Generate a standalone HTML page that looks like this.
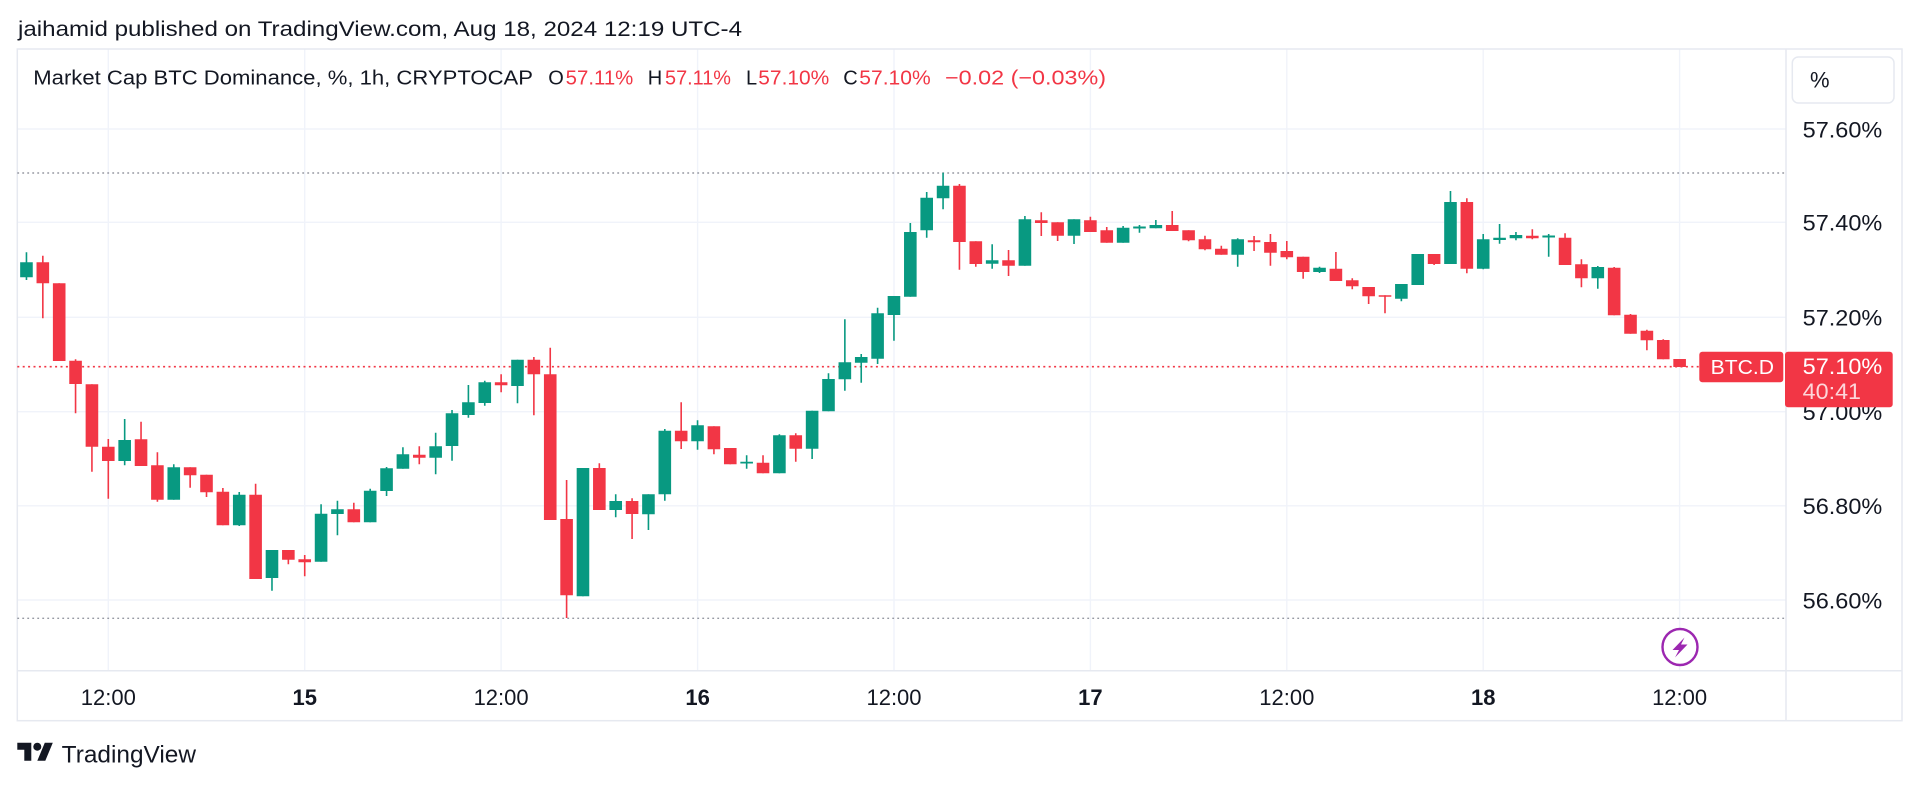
<!DOCTYPE html>
<html><head><meta charset="utf-8"><style>
html,body{margin:0;padding:0;background:#fff;}
svg{display:block;font-family:"Liberation Sans",Arial,sans-serif;}
</style></head><body>
<svg width="1920" height="785" viewBox="0 0 1920 785" xmlns="http://www.w3.org/2000/svg">
<rect width="1920" height="785" fill="#fff"/>
<text x="18" y="36" font-size="21" fill="#131722" textLength="724" lengthAdjust="spacingAndGlyphs">jaihamid published on TradingView.com, Aug 18, 2024 12:19 UTC-4</text>

<!-- grid -->
<g stroke="#F0F3FA" stroke-width="1.4">
<path d="M17.3 129H1786M17.3 222.3H1786M17.3 317.3H1786M17.3 411.7H1786M17.3 505.8H1786M17.3 600H1786"/>
<path d="M108.3 49V670.7M304.7 49V670.7M501.1 49V670.7M697.6 49V670.7M894 49V670.7M1090.4 49V670.7M1286.8 49V670.7M1483.2 49V670.7M1679.6 49V670.7"/>
</g>

<!-- frame -->
<g stroke="#E6E9F0" stroke-width="1.5" fill="none">
<rect x="17.3" y="49" width="1884.7" height="671.7"/>
<path d="M17.3 670.7H1902M1786 49V720.7"/>
</g>

<!-- legend -->
<g font-size="20" fill="#131722">
<text x="33.3" y="84.5" textLength="499.7" lengthAdjust="spacingAndGlyphs">Market Cap BTC Dominance, %, 1h, CRYPTOCAP</text>
<text x="548.3" y="84.5">O</text>
<text x="647.7" y="84.5">H</text>
<text x="746" y="84.5">L</text>
<text x="843.3" y="84.5">C</text>
</g>
<g font-size="20" fill="#F23645">
<text x="565.7" y="84.5" textLength="67.6" lengthAdjust="spacingAndGlyphs">57.11%</text>
<text x="665" y="84.5" textLength="66" lengthAdjust="spacingAndGlyphs">57.11%</text>
<text x="758.3" y="84.5" textLength="71" lengthAdjust="spacingAndGlyphs">57.10%</text>
<text x="859.3" y="84.5" textLength="71.4" lengthAdjust="spacingAndGlyphs">57.10%</text>
<text x="945" y="84.5" textLength="161" lengthAdjust="spacingAndGlyphs">−0.02 (−0.03%)</text>
</g>

<!-- high/low dotted -->
<g stroke="#9598A1" stroke-width="1.4" stroke-dasharray="1.8 3.2" fill="none">
<path d="M17.3 173H1786M17.3 618.3H1786"/>
</g>
<path d="M17.3 366.7H1699" stroke="#F23645" stroke-width="1.6" stroke-dasharray="2 3.4" fill="none"/>

<!-- green candles -->
<g stroke="#089981" fill="none">
<path stroke-width="1.6" d="M26.46 252.3V280M124.67 419V465.3M173.77 464.3V499.7M239.24 492V526M271.98 550V590.7M321.08 504.3V561.7M337.45 500.7V535.3M370.19 488.7V522.3M386.56 467V496M402.92 447.3V468.7M435.66 432.7V474.3M452.03 410V460.7M468.4 385V417.7M484.76 380.7V405.7M517.5 359.7V403.3M582.97 468V596.3M615.71 494.3V517.3M648.44 494.3V530M664.81 429V500.7M697.55 420.3V449.7M746.65 455.3V468.7M779.39 434.3V473.3M812.12 410.7V459M828.49 373.3V411.3M844.86 319.3V390.7M861.23 354V382.7M877.6 307.7V364M893.96 296V340.7M910.33 223V296.7M926.7 192V237.7M943.07 172.7V209.3M992.17 244.3V268.7M1024.91 216V265.7M1074.01 219.3V244M1123.12 226V242.7M1139.48 225V232.7M1155.85 220V228.3M1237.69 238.3V266.7M1319.53 266.7V273M1401.37 284V301.3M1417.74 254V285M1450.48 191V264M1483.21 234V269.3M1499.58 224V243.7M1515.95 232V240.3M1548.68 234V256.7M1597.79 266V288.7"/>
<path stroke-width="12.6" d="M26.46 262.3V277.3M124.67 440V461M173.77 467.3V499.7M239.24 494.7V525.3M271.98 550V578M321.08 513.7V561.7M337.45 509.3V514M370.19 490.7V522.3M386.56 468.3V491M402.92 454.3V468.7M435.66 446.3V457.7M452.03 413.3V446M468.4 402.3V415M484.76 382.3V403M517.5 359.7V386M582.97 468V596.3M615.71 501V510M648.44 494.3V514.3M664.81 430.7V494.3M697.55 425.3V441.3M746.65 461.7V463.5M779.39 435.3V473.3M812.12 410.7V448.7M828.49 379V411.3M844.86 362.3V379.3M861.23 357V362.7M877.6 313.3V358.7M893.96 296V315M910.33 232V296.7M926.7 197.7V230.3M943.07 185.7V198.3M992.17 260.3V263.7M1024.91 219.3V265.7M1074.01 219.3V235.7M1123.12 227.7V242.7M1139.48 226.5V228.5M1155.85 225V228.3M1237.69 239.3V254.7M1319.53 267.7V272M1401.37 284V298.7M1417.74 254V285M1450.48 202V264M1483.21 239.3V268.7M1499.58 237.7V240M1515.95 235V238.3M1548.68 235.5V237.5M1597.79 267V278.3"/>
</g>

<!-- red candles -->
<g stroke="#F23645" fill="none">
<path stroke-width="1.6" d="M42.83 255.7V318.3M59.2 283.3V361M75.56 359.3V413.3M91.93 384.3V471.7M108.3 439V498.7M141.04 421.7V466M157.4 452.3V501.7M190.14 467.3V487.7M206.51 474.7V497M222.88 488V525.3M255.61 483.7V579M288.35 550V564.3M304.72 555V576.3M353.82 502.7V522.3M419.29 446.3V464.3M501.13 374.3V392.3M533.87 357V415.3M550.24 347.7V520M566.6 480V618M599.34 463.3V510M632.08 498.3V539M681.18 402.3V449M713.92 426.3V454.3M730.28 448V464.3M763.02 455.3V473.3M795.76 433.3V461.7M959.44 184V269.7M975.8 241.3V266.7M1008.54 250V276M1041.28 212.3V236M1057.64 222.3V241M1090.38 216.7V232M1106.75 227V242.7M1172.22 211V231M1188.59 230.3V241.3M1204.96 235.7V250.3M1221.32 245.7V254.7M1254.06 236V251M1270.43 234V265.7M1286.8 241V259.3M1303.16 256.7V278.7M1335.9 252V281M1352.27 278.3V289.3M1368.64 287V304M1385 295.3V313.3M1434.11 254V265M1466.84 198.3V273.3M1532.32 229.3V239.3M1565.05 233.3V265M1581.42 259.3V287.3M1614.16 267V315.3M1630.52 314V333.7M1646.89 329.7V350.3M1663.26 339.3V359.3M1679.63 359V367"/>
<path stroke-width="12.6" d="M42.83 262.3V283.3M59.2 283.3V361M75.56 360.7V384M91.93 384.3V446.7M108.3 446.7V461M141.04 439.3V466M157.4 465.3V499.7M190.14 467.3V475.3M206.51 474.7V492.3M222.88 491.7V525.3M255.61 494.7V579M288.35 550V559.7M304.72 559.3V562.3M353.82 509.3V522.3M419.29 454.7V457.7M501.13 382.3V385.3M533.87 359.7V374.3M550.24 374.3V520M566.6 519V595.3M599.34 468V510M632.08 501V514M681.18 430.7V441.3M713.92 426.3V449.3M730.28 448V464.3M763.02 462.7V473.3M795.76 435.3V448.7M959.44 185.7V242M975.8 241.3V264M1008.54 260.3V265.7M1041.28 220.3V223M1057.64 222.3V235.7M1090.38 220.3V232M1106.75 230.3V242.7M1172.22 225V231M1188.59 230.3V240.3M1204.96 239.3V249.3M1221.32 248.7V254.7M1254.06 240.3V242.3M1270.43 242V252.7M1286.8 251V257.3M1303.16 256.7V272M1335.9 268.7V281M1352.27 280.3V286.3M1368.64 287V296.3M1385 295.3V296.8M1434.11 254V264M1466.84 202V268.7M1532.32 235.7V238.3M1565.05 237.7V265M1581.42 264.3V278.3M1614.16 267.7V315.3M1630.52 314.7V333.7M1646.89 330.7V340.3M1663.26 340V359.3M1679.63 359V367"/>
</g>

<!-- price axis -->
<rect x="1792.3" y="57" width="101.7" height="46" rx="6" fill="#fff" stroke="#E6E9F0" stroke-width="1.5"/>
<text x="1810" y="87.3" font-size="22" fill="#131722">%</text>
<g font-size="22" fill="#131722">
<text x="1802.7" y="137.3" textLength="79.6" lengthAdjust="spacingAndGlyphs">57.60%</text>
<text x="1802.7" y="230.6" textLength="79.6" lengthAdjust="spacingAndGlyphs">57.40%</text>
<text x="1802.7" y="325.6" textLength="79.6" lengthAdjust="spacingAndGlyphs">57.20%</text>
<text x="1802.7" y="420" textLength="79.6" lengthAdjust="spacingAndGlyphs">57.00%</text>
<text x="1802.7" y="514.1" textLength="79.6" lengthAdjust="spacingAndGlyphs">56.80%</text>
<text x="1802.7" y="608.3" textLength="79.6" lengthAdjust="spacingAndGlyphs">56.60%</text>
</g>

<!-- current price labels -->
<rect x="1699.3" y="351.7" width="84" height="30.6" rx="3" fill="#F23645"/>
<text x="1710.7" y="374" font-size="20.5" fill="#fff" textLength="63.3" lengthAdjust="spacingAndGlyphs">BTC.D</text>
<rect x="1785" y="351.7" width="107.7" height="55.6" rx="3" fill="#F23645"/>
<text x="1802.7" y="374" font-size="22" fill="#fff" textLength="79.6" lengthAdjust="spacingAndGlyphs">57.10%</text>
<text x="1802.7" y="399" font-size="22" fill="#fff" fill-opacity="0.8" textLength="58.3" lengthAdjust="spacingAndGlyphs">40:41</text>

<!-- time axis -->
<g font-size="22" fill="#131722" text-anchor="middle">
<text x="108.3" y="705">12:00</text>
<text x="304.7" y="705" font-weight="bold">15</text>
<text x="501.1" y="705">12:00</text>
<text x="697.6" y="705" font-weight="bold">16</text>
<text x="894" y="705">12:00</text>
<text x="1090.4" y="705" font-weight="bold">17</text>
<text x="1286.8" y="705">12:00</text>
<text x="1483.2" y="705" font-weight="bold">18</text>
<text x="1679.6" y="705">12:00</text>
</g>

<!-- lightning event icon -->
<ellipse cx="1680" cy="647" rx="17.5" ry="18" fill="#fff" stroke="#9C27B0" stroke-width="2.4"/>
<path d="M1684.5 637.5L1672.5 650H1679L1675 657.5L1687.5 644.5H1681Z" fill="#9C27B0"/>

<!-- footer -->
<g transform="translate(17.3,738.7)" fill="#131722">
<path d="M14 22H7V11H0V4h14v18zM28 22h-8l7.5-18h8L28 22z"/>
<circle cx="20" cy="8" r="4"/>
</g>
<text x="61.7" y="762.7" font-size="24" fill="#131722" textLength="134.3" lengthAdjust="spacingAndGlyphs">TradingView</text>
</svg>
</body></html>
